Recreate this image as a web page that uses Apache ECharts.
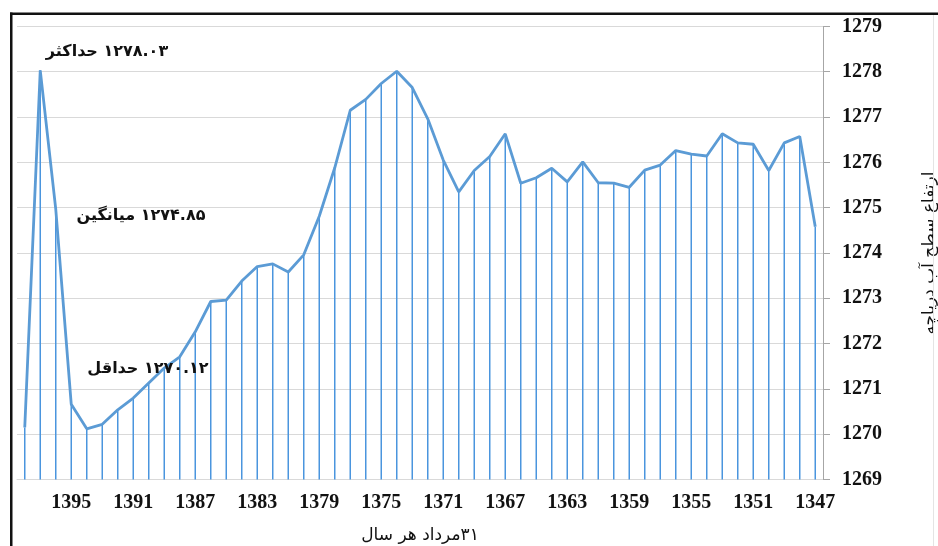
<!DOCTYPE html>
<html>
<head>
<meta charset="utf-8">
<script src="https://cdn.jsdelivr.net/npm/echarts@6/dist/echarts.min.js"></script>
<style>
html,body{margin:0;padding:0;background:#fff;}
#c{width:938px;height:546px;}
</style>
</head>
<body>
<div id="c"></div>
<script>
const years = [];
for (let y = 1398; y >= 1347; y--) years.push(String(y));
const levels = [
  1270.15, 1278.03, 1274.97, 1270.66, 1270.12, 1270.22, 1270.54, 1270.80, 1271.13, 1271.46, 1271.71, 1272.26, 1272.93, 1272.96,
  1273.38, 1273.70, 1273.76, 1273.58, 1273.96, 1274.81, 1275.88, 1277.15, 1277.39, 1277.74, 1278.01, 1277.65, 1276.96, 1276.05,
  1275.35, 1275.82, 1276.13, 1276.63, 1275.54, 1275.66, 1275.87, 1275.57, 1276.01, 1275.55, 1275.54, 1275.45, 1275.83, 1275.94,
  1276.26, 1276.18, 1276.14, 1276.63, 1276.43, 1276.40, 1275.82, 1276.43, 1276.57, 1274.58
];
const yMin = 1269, yMax = 1279, yStep = 1;
const RLM = '\u200F';
const xTitle = RLM + '۳۱مرداد هر سال';
const yTitle = RLM + 'ارتفاع سطح آب دریاچه';
const notes = ['۱۲۷۸.۰۳ حداکثر', '۱۲۷۴.۸۵ میانگین', '۱۲۷۰.۱۲ حداقل'];

const chart = echarts.init(document.getElementById('c'), null, {renderer: 'canvas'});
const serif = "'Liberation Serif', 'Times New Roman', serif";
const fa = "'DejaVu Sans', 'Noto Sans', sans-serif";
const notePos = [[107, 52], [141, 216], [148, 369]];

chart.setOption({
  animation: false,
  backgroundColor: '#fff',
  grid: {left: 17, right: 115, top: 26.4, bottom: 66.4, containLabel: false, outerBoundsMode: 'none'},
  xAxis: {
    type: 'category',
    data: years,
    boundaryGap: true,
    axisLine: {show: true, lineStyle: {color: '#D9D9D9', width: 1}},
    axisTick: {show: false},
    axisLabel: {
      interval: (idx) => idx % 4 === 3,
      color: '#111', fontFamily: serif, fontWeight: 'bold', fontSize: 20, margin: 13
    },
    name: xTitle,
    nameLocation: 'middle',
    nameGap: 47,
    nameTextStyle: {color: '#111', fontFamily: fa, fontSize: 17}
  },
  yAxis: {
    type: 'value',
    position: 'right',
    min: yMin, max: yMax, interval: yStep,
    startValue: yMin,
    axisLine: {show: true, lineStyle: {color: '#A6A6A6', width: 1}},
    axisTick: {show: true, inside: false, length: 7, lineStyle: {color: '#A6A6A6'}},
    splitLine: {show: true, lineStyle: {color: '#D9D9D9', width: 1}},
    axisLabel: {
      formatter: (v) => String(v),
      color: '#111', fontFamily: serif, fontWeight: 'bold', fontSize: 20, margin: 19
    },
    name: yTitle,
    nameLocation: 'middle',
    nameRotate: 90,
    nameGap: 98,
    nameTextStyle: {color: '#111', fontFamily: fa, fontSize: 17}
  },
  series: [
    {
      type: 'bar',
      data: levels,
      barWidth: 1.5,
      clip: true,
      itemStyle: {color: '#4A95DE'},
      z: 1,
      silent: true
    },
    {
      type: 'line',
      data: levels,
      symbol: 'none',
      smooth: false,
      lineStyle: {color: '#5B9BD5', width: 2.8},
      z: 3,
      silent: true
    }
  ],
  graphic: [
    {type: 'rect', shape: {x: 10, y: 12.5, width: 928, height: 2.5}, style: {fill: '#111'}, z: 10},
    {type: 'rect', shape: {x: 10, y: 12.5, width: 2.5, height: 534}, style: {fill: '#111'}, z: 10},
    {type: 'rect', shape: {x: 933, y: 15, width: 1, height: 531}, style: {fill: '#e4e4e4'}, z: 10}
  ].concat(notes.map((t, i) => ({
    type: 'text',
    x: notePos[i][0], y: notePos[i][1],
    style: {
      text: RLM + t, fill: '#111', font: "bold 16px 'DejaVu Sans', sans-serif",
      textAlign: 'center', textVerticalAlign: 'middle'
    },
    z: 20
  })))
});
</script>
</body>
</html>
